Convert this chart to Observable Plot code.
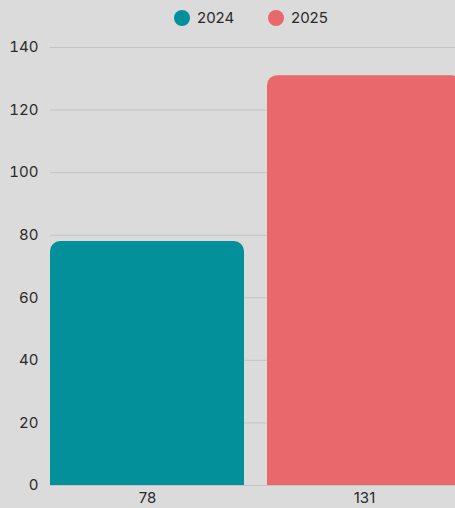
<!DOCTYPE html>
<html>
<head>
<meta charset="utf-8">
<script src="https://cdn.jsdelivr.net/npm/d3@7"></script>
<script src="https://cdn.jsdelivr.net/npm/@observablehq/plot@0.6"></script>
<style>
  html, body { margin: 0; padding: 0; background: #dbdbdb; overflow: hidden; }
  body { width: 455px; height: 508px; font-family: Inter, "Open Sans", sans-serif; }
  #legend { height: 35px; position: relative; }
  .item { position: absolute; top: 8px; display: flex; align-items: center; font-size: 15px; color: #2a2a2a; }
  .dot { width: 16px; height: 16px; border-radius: 50%; margin-right: 7px; }
  #chart svg { display: block; background: transparent; }
</style>
</head>
<body>
<div id="legend"></div>
<div id="chart"></div>
<script>
const years = ["2024", "2025"];
const values = [78, 131];
const colors = ["#03909b", "#e8686c"];
const yTicks = [0, 20, 40, 60, 80, 100, 120, 140];

const data = years.map((y, i) => ({year: y, value: values[i], label: String(values[i])}));

const legend = document.getElementById("legend");
const legendLeft = [174, 268];
years.forEach((y, i) => {
  const it = document.createElement("div");
  it.className = "item";
  it.style.left = legendLeft[i] + "px";
  it.innerHTML = `<span class="dot" style="background:${colors[i]}"></span><span>${y}</span>`;
  legend.appendChild(it);
});

const chart = Plot.plot({
  width: 455,
  height: 473,
  marginTop: 12,
  marginBottom: 23,
  marginLeft: 50,
  marginRight: 0,
  style: {background: "transparent", fontFamily: "Inter, 'Open Sans', sans-serif", fontSize: "15px", color: "#2a2a2a"},
  x: {domain: data.map(d => d.label), range: [50, 461], paddingInner: 0.106, paddingOuter: 0, align: 0, label: null},
  y: {domain: [0, 140], ticks: yTicks, label: null},
  color: {domain: years, range: colors},
  marks: [
    Plot.gridY(yTicks, {stroke: "#c4c4c4", strokeOpacity: 1, strokeWidth: 1}),
    Plot.barY(data, {x: "label", y: "value", fill: "year", rx1y1: 10, rx2y1: 10}),
    Plot.axisY(yTicks, {tickSize: 0, tickPadding: 12, fontSize: 15, fill: "#2a2a2a", label: null}),
    Plot.axisX({tickSize: 0, tickPadding: 7, fontSize: 15, fill: "#2a2a2a", label: null})
  ]
});
document.getElementById("chart").appendChild(chart);
</script>
</body>
</html>
